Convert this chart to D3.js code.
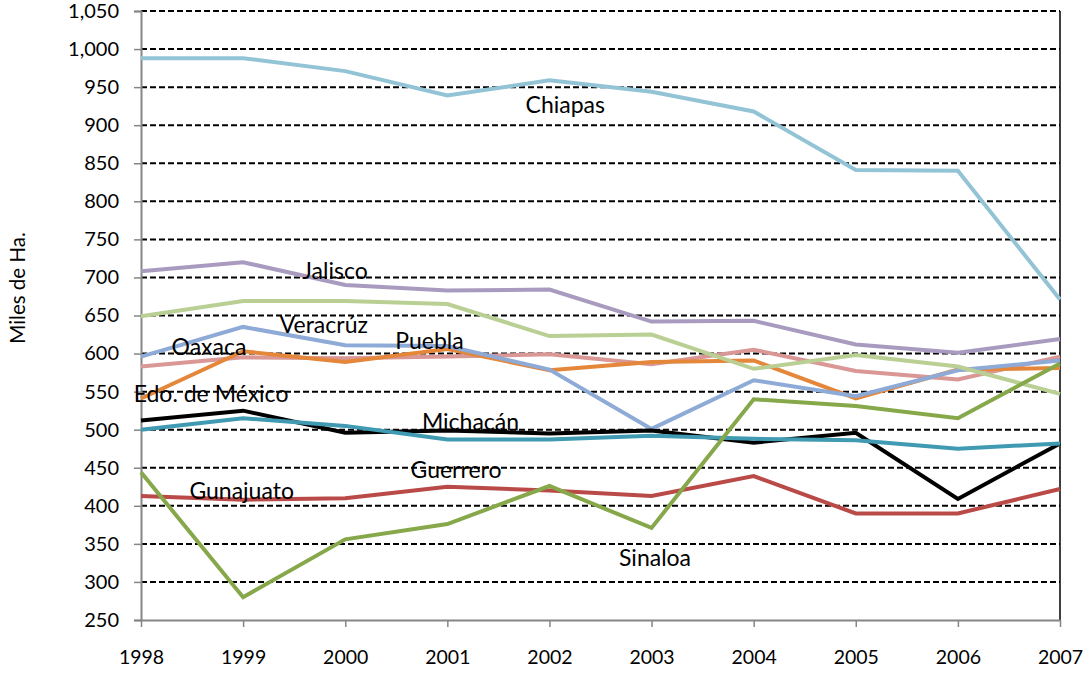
<!DOCTYPE html>
<html>
<head>
<meta charset="utf-8">
<script src="https://cdn.jsdelivr.net/npm/d3@7"></script>
<style>
body { margin:0; background:#fff; }
#graph { width:1083px; height:673px; }
text { font-family: Lato, "Open Sans", sans-serif; fill:#000; }
</style>
</head>
<body>
<div id="graph"></div>
<script>
!(function(){
"use strict"

var years = [1998, 1999, 2000, 2001, 2002, 2003, 2004, 2005, 2006, 2007]
var yTicks = d3.range(250, 1051, 50)

// Miles de Ha. por estado
var chiapas   = [988, 988, 971, 939, 959, 944, 918, 841, 840, 671]
var jalisco   = [708, 720, 690, 683, 684, 642, 643, 612, 601, 619]
var oaxaca    = [583, 595, 594, 596, 599, 586, 605, 577, 566, 596]
var puebla    = [541, 603, 589, 606, 578, 589, 591, 541, 579, 581]
var veracruz  = [596, 635, 611, 610, 579, 501, 565, 544, 578, 591]
var otro      = [649, 669, 669, 665, 623, 625, 580, 598, 583, 547]
var edomex    = [512, 525, 496, 499, 495, 499, 483, 496, 409, 482]
var michoacan = [500, 515, 505, 487, 487, 492, 488, 486, 475, 482]
var gunajuato = [413, 408, 410, 425, 420, 413, 439, 390, 390, 422]
var sinaloa   = [444, 280, 356, 376, 426, 371, 540, 531, 515, 587]

var seriesNames  = ["Chiapas", "Jalisco", "Oaxaca", "Puebla", "Veracrúz", "Otro", "Edo. de México", "Michacán", "Gunajuato", "Sinaloa"]
var seriesValues = [chiapas, jalisco, oaxaca, puebla, veracruz, otro, edomex, michoacan, gunajuato, sinaloa]
var seriesColors = ["#93c4d6", "#a89bbf", "#d99795", "#e4873b", "#8eaad6", "#b9cf93", "#000000", "#3f9ab2", "#b94a47", "#86a84a"]

// etiquetas de texto: centro en años, línea base en Miles de Ha.
var labelText  = ["Chiapas", "Jalisco", "Veracrúz", "Puebla", "Oaxaca", "Edo. de México", "Michacán", "Guerrero", "Gunajuato", "Sinaloa"]
var labelYear  = [2002.155, 1999.9, 1999.79, 2000.825, 1998.666, 1998.686, 2001.227, 2001.085, 1998.986, 2003.034]
var labelValue = [915.6, 697.5, 626.6, 605.6, 598.1, 536, 499.6, 436.9, 408.6, 320.9]

var width = 1083, height = 673
var margin = {top:11, left:141, bottom:53, right:23}
var chartWidth = width - margin.left - margin.right
var chartHeight = height - margin.top - margin.bottom

var svg = d3.select("#graph").append("svg")
	.attr("width", width)
	.attr("height", height)

var chart = svg.append("g")
	.attr("transform", "translate(" + [margin.left, margin.top] + ")")

var x = d3.scaleLinear().domain([1998, 2007]).range([0, chartWidth])
var y = d3.scaleLinear().domain([250, 1050]).range([chartHeight, 0])

// gridlines
chart.append("g")
	.selectAll("line")
	.data(yTicks.slice(1))
	.enter().append("line")
	.attr("x1", 0)
	.attr("x2", chartWidth)
	.attr("y1", function(d){ return y(d) })
	.attr("y2", function(d){ return y(d) })
	.attr("stroke", "#000")
	.attr("stroke-width", 2)
	.attr("stroke-dasharray", "6,3")

// right border
chart.append("line")
	.attr("x1", chartWidth).attr("x2", chartWidth)
	.attr("y1", 0).attr("y2", chartHeight)
	.attr("stroke", "#000")
	.attr("stroke-width", 1.5)

// y axis
var yAxis = chart.append("g")
	.call(d3.axisLeft(y).tickValues(yTicks).tickFormat(d3.format(",")).tickSize(7).tickPadding(15))
yAxis.select(".domain").attr("stroke", "#868686").attr("stroke-width", 2)
yAxis.selectAll(".tick line").attr("stroke", "#868686").attr("stroke-width", 1.5)
yAxis.selectAll("text").attr("font-size", 20).attr("font-family", "Lato, sans-serif").attr("fill", "#000")

// x axis
var xAxis = chart.append("g")
	.attr("transform", "translate(0," + chartHeight + ")")
	.call(d3.axisBottom(x).tickValues(years).tickFormat(d3.format("d")).tickSizeOuter(0).tickSizeInner(7).tickPadding(23))
xAxis.select(".domain").attr("stroke", "#868686").attr("stroke-width", 2)
xAxis.selectAll(".tick line").attr("stroke", "#868686").attr("stroke-width", 1.5)
xAxis.selectAll("text").attr("font-size", 19.5).attr("font-family", "Lato, sans-serif").attr("fill", "#000")

// lines
var line = d3.line()
	.x(function(d, i){ return x(years[i]) })
	.y(function(d){ return y(d) })

chart.append("g")
	.selectAll("path")
	.data(seriesValues)
	.enter().append("path")
	.attr("d", line)
	.attr("fill", "none")
	.attr("stroke", function(d, i){ return seriesColors[i] })
	.attr("stroke-width", 4)
	.attr("stroke-linejoin", "miter")

// state labels
chart.append("g")
	.selectAll("text")
	.data(labelText)
	.enter().append("text")
	.attr("x", function(d, i){ return x(labelYear[i]) })
	.attr("y", function(d, i){ return y(labelValue[i]) })
	.attr("text-anchor", "middle")
	.attr("font-size", 23)
	.text(function(d){ return d })

// y title
svg.append("text")
	.attr("transform", "translate(17,288) rotate(-90)")
	.attr("text-anchor", "middle")
	.attr("dominant-baseline", "central")
	.attr("font-size", 20.5)
	.text("Miles de Ha.")
}());
</script>
</body>
</html>
